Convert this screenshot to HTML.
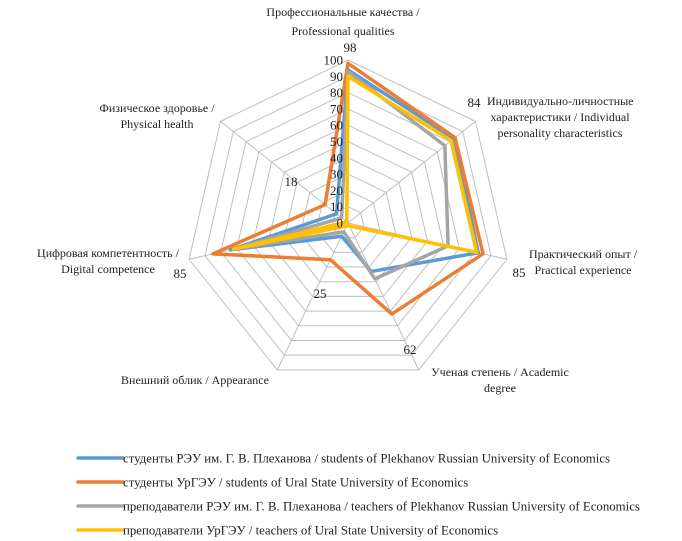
<!DOCTYPE html>
<html><head><meta charset="utf-8">
<style>
body{margin:0;background:#fff;width:682px;height:541px;overflow:hidden;font-family:"Liberation Serif",serif;}
svg{display:block}
text{font-family:"Liberation Serif","Noto Serif CJK SC",serif;fill:#222;font-size:12px}
text.big{font-size:13px}
text.leg{font-size:12.85px}
</style></head>
<body>
<svg id="chart" width="682" height="541"></svg>
<script>
const categories=["Professional","Individual","Practical","Academic","Appearance","Digital","Physical"];
const seriesNames=["студенты  РЭУ им. Г. В. Плеханова / students of Plekhanov Russian University of Economics","студенты УрГЭУ / students of Ural State University of Economics","преподаватели РЭУ им. Г. В. Плеханова / teachers of Plekhanov Russian University of Economics"," преподаватели УрГЭУ / teachers of Ural State University of Economics"];
const blueValues=[94,83,82,33,9,74,9];
const orangeValues=[98,84,85,62,25,85,18];
const grayValues=[93,76,63,38,6,72,5];
const yellowValues=[90,81,81,2,2,72,1];
const tickLabels=[0,10,20,30,40,50,60,70,80,90,100];
const orangeLabels=["98","84","85","62","25","85","18"];
const colors=["#5B9BD5","#ED7D31","#A5A5A5","#FFC000"];
const svg=document.getElementById('chart');
const NS="http://www.w3.org/2000/svg";
const cx=348,cy=223,R=163,MAX=100;
function ang(i){return (-90+i*360/7)*Math.PI/180;}
function pt(i,v){const r=v/MAX*R;return [cx+r*Math.cos(ang(i)),cy+r*Math.sin(ang(i))];}
function mk(t,a){const e=document.createElementNS(NS,t);for(const k in a)e.setAttribute(k,a[k]);svg.appendChild(e);return e;}
// grid
tickLabels.forEach(t=>{if(t===0)return;
 const p=categories.map((c,i)=>pt(i,t).join(',')).join(' ');
 const g=mk('polygon',{points:p,fill:'none',stroke:'#bfbfbf','stroke-width':1});
 
 
});
categories.forEach((c,i)=>{const [x,y]=pt(i,100);
 const l=mk('line',{x1:cx,y1:cy,x2:x,y2:y,stroke:'#bfbfbf','stroke-width':1});
 
 
});
// series
[blueValues,orangeValues,grayValues,yellowValues].forEach((vals,s)=>{
 const p=vals.map((v,i)=>pt(i,v).join(',')).join(' ');
 const e=mk('polygon',{points:p,fill:'none',stroke:colors[s],'stroke-width':3.5,'stroke-linejoin':'round'});
 
 
});
tickLabels.forEach(t=>{const y=cy-t/MAX*R;
 const e=mk('text',{x:343,y:y+4.5,'text-anchor':'end','class':'big'});e.textContent=t;
 
 
});
// orange data labels
const labelPos=[[350,52],[474,107],[519,277],[410,354],[320,298],[180,278],[291,186]];
orangeLabels.forEach((t,i)=>{const e=mk('text',{x:labelPos[i][0],y:labelPos[i][1],'text-anchor':'middle','class':'big'});e.textContent=t;
 
 
});
// category labels
const catText=[
 [[343,16,'middle','Профессиональные качества /'],[343,35,'middle','Professional qualities']],
 [[487,105,'start','Индивидуально-личностные'],[560,121,'middle','характеристики / Individual'],[560,137,'middle','personality characteristics']],
 [[583,258,'middle','Практический опыт /'],[583,274,'middle','Practical experience']],
 [[500,376,'middle','Ученая степень / Academic'],[500,392,'middle','degree']],
 [[195,384,'middle','Внешний облик / Appearance']],
 [[108,257,'middle','Цифровая компетентность /'],[108,273,'middle','Digital competence']],
 [[157,112,'middle','Физическое здоровье /'],[157,128,'middle','Physical health']]
];
catText.forEach((lines,i)=>lines.forEach(([x,y,a,t])=>{const e=mk('text',{x:x,y:y,'text-anchor':a});e.textContent=t;
 
 
}));
// legend
seriesNames.forEach((n,s)=>{const y=458+s*24;
 const l=mk('line',{x1:78,y1:y,x2:123,y2:y,stroke:colors[s],'stroke-width':3.5,'stroke-linecap':'round'});
 
 
 const e=mk('text',{x:123,y:y+4.5,'class':'leg'});e.textContent=n;
 
 
});
</script>
</body></html>
